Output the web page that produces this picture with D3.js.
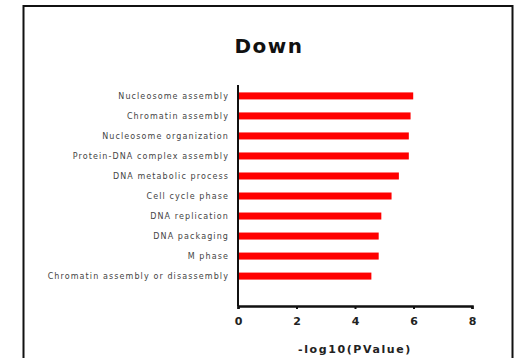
<!DOCTYPE html>
<html>
<head>
  <script src="https://cdn.jsdelivr.net/npm/d3@7"></script>
  <style>
    body { margin: 0; background: #fff; }
    text { font-family: "DejaVu Sans", Verdana, sans-serif; }
  </style>
</head>
<body>
  <svg width="522" height="358" id="mainsvg"></svg>
  <script>
    const terms = ["Nucleosome assembly", "Chromatin assembly", "Nucleosome organization",
      "Protein-DNA complex assembly", "DNA metabolic process", "Cell cycle phase",
      "DNA replication", "DNA packaging", "M phase", "Chromatin assembly or disassembly"];
    const pvalues = [5.99, 5.90, 5.84, 5.84, 5.50, 5.25, 4.90, 4.81, 4.81, 4.56];
    const xTicks = [0, 2, 4, 6, 8];

    const svg = d3.select('svg');

    // outer frame
    svg.append('rect')
      .attr('x', 23.5).attr('y', 6).attr('width', 489).attr('height', 360)
      .attr('fill', 'none').attr('stroke', '#111').attr('stroke-width', 2);

    svg.append('text')
      .attr('x', 269).attr('y', 53)
      .attr('text-anchor', 'middle')
      .attr('font-size', 20).attr('font-weight', 'bold')
      .attr('letter-spacing', 1.5)
      .attr('fill', '#111')
      .text('Down');

    const x = d3.scaleLinear().domain([0, 8]).range([238, 472]);
    const y = d3.scaleBand().domain(terms).range([86, 286]).paddingInner(0.65).paddingOuter(0.32);

    svg.append('g')
      .selectAll('rect')
      .data(terms)
      .join('rect')
      .attr('x', x(0) + 1)
      .attr('y', d => y(d))
      .attr('width', (d, i) => x(pvalues[i]) - x(0) - 1)
      .attr('height', y.bandwidth())
      .attr('fill', '#ff0000');

    svg.append('g')
      .selectAll('text')
      .data(terms)
      .join('text')
      .attr('x', 229)
      .attr('y', d => y(d) + y.bandwidth() / 2)
      .attr('dy', '0.35em')
      .attr('text-anchor', 'end')
      .attr('font-size', 8)
      .attr('letter-spacing', 1.1)
      .attr('fill', '#444')
      .text(d => d);

    // y axis line
    svg.append('line')
      .attr('x1', x(0)).attr('x2', x(0))
      .attr('y1', 85).attr('y2', 306)
      .attr('stroke', '#111').attr('stroke-width', 2);

    const xAxis = svg.append('g')
      .attr('transform', 'translate(0,306)')
      .call(d3.axisBottom(x).tickValues(xTicks).tickSize(3).tickPadding(8));
    xAxis.select('.domain').attr('stroke', '#111').attr('stroke-width', 2.5);
    xAxis.selectAll('.tick line').attr('stroke', '#111').attr('stroke-width', 2);
    xAxis.selectAll('.tick text')
      .attr('font-family', '"DejaVu Sans", sans-serif')
      .attr('font-size', 11).attr('font-weight', 'bold').attr('fill', '#222');

    svg.append('text')
      .attr('x', 355).attr('y', 353)
      .attr('text-anchor', 'middle')
      .attr('font-size', 11).attr('font-weight', 'bold')
      .attr('letter-spacing', 1.6)
      .attr('fill', '#222')
      .text('-log10(PValue)');
  </script>
</body>
</html>
